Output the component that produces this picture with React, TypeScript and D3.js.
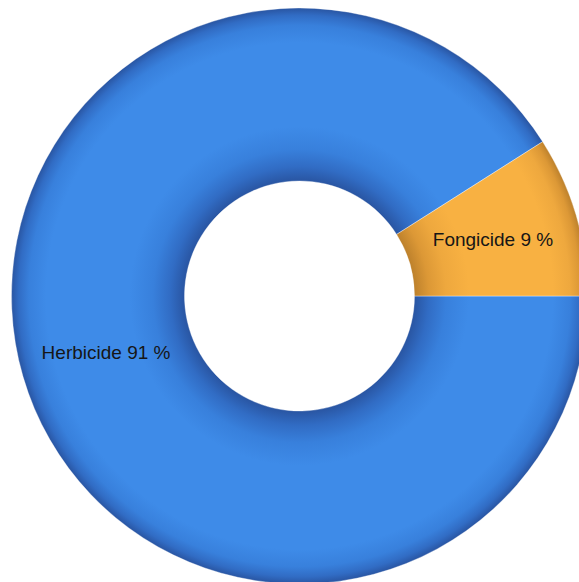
import React from "react";
import * as d3 from "d3";

// Share of treatments by product family
const categories = ["Herbicide", "Fongicide"];
const shares = [91, 9];

const WIDTH = 579;
const HEIGHT = 582;
const CX = 299.5;
const CY = 296;
const OUTER = 288;
const INNER = 115;

// Base tone plus darker edge tones for the bevelled ring
const palette: Record<string, { light: string; soft: string; mid: string; dark: string }> = {
  Herbicide: { light: "#3e8be8", soft: "#3880dc", mid: "#316cc4", dark: "#2955a2" },
  Fongicide: { light: "#f8b142", soft: "#eea83e", mid: "#dc9836", dark: "#bd812c" },
};

export default function App() {
  const data = categories.map((c, i) => ({ name: c, value: shares[i] }));
  const pie = d3
    .pie<{ name: string; value: number }>()
    .sort(null)
    .value((d) => d.value)
    .startAngle(Math.PI / 2)
    .endAngle(Math.PI / 2 + 2 * Math.PI);
  const arcs = pie(data);
  const arc = d3
    .arc<d3.PieArcDatum<{ name: string; value: number }>>()
    .innerRadius(INNER)
    .outerRadius(OUTER);

  const k = INNER / OUTER;
  const stops = (p: { light: string; soft: string; mid: string; dark: string }) => [
    { o: k, c: p.dark },
    { o: k + 0.05, c: p.mid },
    { o: k + 0.11, c: p.soft },
    { o: k + 0.19, c: p.light },
    { o: 0.88, c: p.light },
    { o: 0.94, c: p.soft },
    { o: 0.975, c: p.mid },
    { o: 1, c: p.dark },
  ];

  return (
    <div style={{ position: "fixed", left: 0, top: 0 }}>
      <svg width={WIDTH} height={HEIGHT} style={{ display: "block", background: "#fff" }}>
        <defs>
          {categories.map((c) => (
            <radialGradient
              key={c}
              id={`ring-${c}`}
              gradientUnits="userSpaceOnUse"
              cx={0}
              cy={0}
              r={OUTER}
            >
              {stops(palette[c]).map((s, i) => (
                <stop key={i} offset={s.o} stopColor={s.c} />
              ))}
            </radialGradient>
          ))}
        </defs>
        <g transform={`translate(${CX},${CY})`}>
          {arcs.map((a) => (
            <path
              key={a.data.name}
              d={arc(a) || ""}
              fill={`url(#ring-${a.data.name})`}
              stroke="rgba(255,255,255,0.35)"
              strokeWidth={1}
            />
          ))}
          {arcs.map((a) => {
            const [x, y] = arc.centroid(a);
            return (
              <text
                key={`l-${a.data.name}`}
                x={x}
                y={y}
                textAnchor="middle"
                dominantBaseline="central"
                fontFamily="'Liberation Sans', Arial, sans-serif"
                fontSize={19}
                fill="#161616"
              >
                {`${a.data.name} ${a.data.value} %`}
              </text>
            );
          })}
        </g>
      </svg>
    </div>
  );
}
